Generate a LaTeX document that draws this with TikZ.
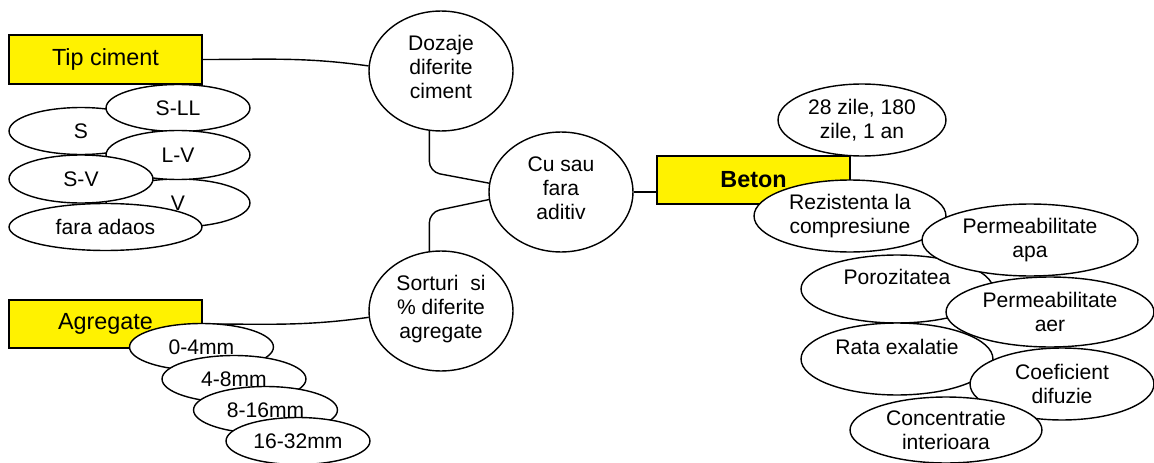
\documentclass[tikz,border=0pt]{standalone}
\usepackage{fontspec}
\setmainfont{Liberation Sans}
\usetikzlibrary{shapes.geometric}

\tikzset{
  oval/.style 2 args={ellipse, draw, fill=white, inner sep=0pt, align=center,
    minimum width=#1*0.04cm, minimum height=#2*0.04cm,
    font=\fontsize{12}{13.6}\selectfont},
  keybox/.style={rectangle, draw, line width=1.2pt, fill=yellow, inner sep=0pt,
    minimum width=3.86cm, minimum height=0.97cm,
    font=\fontsize{13.3}{15}\selectfont},
  toptext/.style={text depth=13.6pt},
  raised/.style={text depth=4.5pt}
}

\begin{document}
\begin{tikzpicture}[x=0.02cm, y=0.02cm, thick]

  \useasboundingbox (0, 0) rectangle (1154, -463);

  % yellow keys
  \node[keybox] (tip) at (105.5, -59.5) {Tip ciment};
  \node[keybox] (agregate) at (105.5, -324) {Agregate};
  \node[keybox, font=\fontsize{13.3}{15}\selectfont\bfseries] (beton) at (753.5, -180) {Beton};

  % middle column
  \node[oval={72}{60}, raised] (dozaje) at (441, -71) {Dozaje\\diferite\\ciment};
  \node[oval={72}{60}, raised] (aditiv) at (561, -192) {Cu sau\\fara\\aditiv};
  \node[oval={72}{60}, raised] (sorturi) at (441, -311) {Sorturi\ \ si\\\% diferite\\agregate};

  \draw (tip.east) to[out=0, in=172] (dozaje.176);
  \draw (agregate.east) to[out=0, in=188] (sorturi.185);
  \draw[rounded corners=6] (dozaje.259) -- ++(0, -41) -- (aditiv.173);
  \draw[rounded corners=6] (sorturi.101) -- ++(0, 39) -- (aditiv.186);
  \draw[line width=1.3pt] (aditiv.east) -- (aditiv.east -| beton.west);

  % cement types
  \foreach \x/\y/\rx/\ry/\txt [count=\n] in {178/203/72/24/V, 81/131/72/23.5/S,
                                            178/108/72/23.5/S-LL, 178/155/72/24.5/L-V,
                                            81/179/72/24/S-V, 105.5/227/96.5/23.5/fara adaos} {
    \node[oval={\rx}{\ry}] (ciment-\n) at (\x, -\y) {\txt};
  }

  % aggregate fractions
  \foreach \x/\y/\txt [count=\n] in {201.5/347/0-4mm, 234/379/4-8mm,
                                     265.5/410/8-16mm, 298/441/16-32mm} {
    \node[oval={72}{23.5}] (fractie-\n) at (\x, -\y) {\txt};
  }

  % concrete properties
  \node[oval={84}{36}] (zile) at (862, -120) {28 zile, 180\\zile, 1 an};
  \node[oval={96}{36}] (rezistenta) at (850, -216) {Rezistenta la\\compresiune};
  \node[oval={96}{34}, toptext] (porozitate) at (897, -289) {Porozitatea};
  \node[oval={96}{36}, toptext] (exalatie) at (897, -359) {Rata exalatie};

  \foreach \x/\y/\rx/\ry/\txt [count=\n] in {1030/240/108/36/{Permeabilitate\\apa},
                                            1050/312/104/35/{Permeabilitate\\aer},
                                            1062/384/92/36/{Coeficient\\difuzie},
                                            946/430/96/33/{Concentratie\\interioara}} {
    \node[oval={\rx}{\ry}] (proprietate-\n) at (\x, -\y) {\txt};
  }

\end{tikzpicture}
\end{document}
